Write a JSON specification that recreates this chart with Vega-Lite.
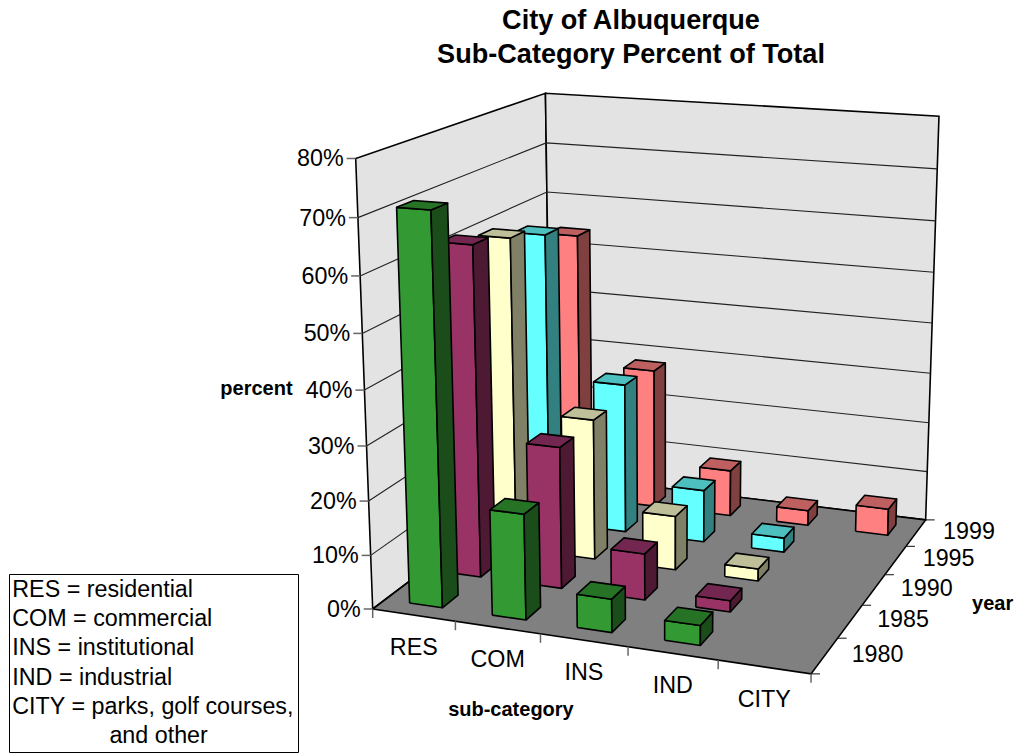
{
"$schema":"https://vega.github.io/schema/vega-lite/v6.json",
"width":1021,"height":755,"padding":0,"autosize":{"type":"none"},
"background":"white",
"title":{"text":["City of Albuquerque","Sub-Category Percent of Total"],"font":"Liberation Sans","fontSize":27.1,"fontWeight":"bold","color":"#000","anchor":"start","frame":"group","align":"center","baseline":"top","dx":631,"dy":69,"offset":0,"lineHeight":34},
"config":{"view":{"stroke":null},"font":"Liberation Sans"},
"encoding":{
"x":{"field":"px","type":"quantitative","scale":{"domain":[0,1021],"nice":false,"zero":false},"axis":null},
"y":{"field":"py","type":"quantitative","scale":{"domain":[755,0],"nice":false,"zero":false},"axis":null}
},
"layer":[
{"data":{"values":[{"surface":"left wall"},{"surface":"back wall"},{"surface":"floor"}]},
"transform":[
{"calculate":"datum.surface==='left wall'?[{k:0,c:0,d:0,v:0},{k:1,c:0,d:1,v:0},{k:2,c:0,d:1,v:1},{k:3,c:0,d:0,v:1},{k:4,c:0,d:0,v:0}]:datum.surface==='back wall'?[{k:0,c:0,d:1,v:0},{k:1,c:1,d:1,v:0},{k:2,c:1,d:1,v:1},{k:3,c:0,d:1,v:1},{k:4,c:0,d:1,v:0}]:[{k:0,c:0,d:0,v:0},{k:1,c:1,d:0,v:0},{k:2,c:1,d:1,v:0},{k:3,c:0,d:1,v:0},{k:4,c:0,d:0,v:0}]","as":"pts"},
{"flatten":["pts"]},
{"calculate":"datum.pts.k","as":"k"},
{"calculate":"(372.7+381.8*datum.pts.c+283.7*datum.pts.d-36.5*datum.pts.v)/(1-0.0697*datum.pts.c+0.1913*datum.pts.d-0.0548*datum.pts.v)","as":"px"},
{"calculate":"(609+17.9*datum.pts.c-43.8*datum.pts.d-459.2*datum.pts.v)/(1-0.0697*datum.pts.c+0.1913*datum.pts.d-0.0548*datum.pts.v)","as":"py"}
],
"mark":{"type":"line","stroke":"#000","strokeWidth":1.6,"clip":false},
"encoding":{"order":{"field":"k","type":"quantitative"},"detail":{"field":"surface"},
"fill":{"field":"surface","type":"nominal","legend":null,"scale":{"domain":["left wall","back wall","floor"],"range":["#e3e3e3","#e3e3e3","#808080"]}}}
},
{"data":{"values":[{"percent":10},{"percent":20},{"percent":30},{"percent":40},{"percent":50},{"percent":60},{"percent":70}]},
"transform":[
{"calculate":"[{k:0,c:0,d:0},{k:1,c:0,d:1},{k:2,c:1,d:1}]","as":"pts"},
{"flatten":["pts"]},
{"calculate":"datum.pts.k","as":"k"},
{"calculate":"datum.percent/80","as":"v"},
{"calculate":"(372.7+381.8*datum.pts.c+283.7*datum.pts.d-36.5*datum.v)/(1-0.0697*datum.pts.c+0.1913*datum.pts.d-0.0548*datum.v)","as":"px"},
{"calculate":"(609+17.9*datum.pts.c-43.8*datum.pts.d-459.2*datum.v)/(1-0.0697*datum.pts.c+0.1913*datum.pts.d-0.0548*datum.v)","as":"py"}
],
"mark":{"type":"line","stroke":"#222","strokeWidth":1.1},
"encoding":{"order":{"field":"k","type":"quantitative"},"detail":{"field":"percent"}}
},
{"data":{"name":"percentTicks","values":[{"percent":0},{"percent":10},{"percent":20},{"percent":30},{"percent":40},{"percent":50},{"percent":60},{"percent":70},{"percent":80}]},
"transform":[
{"calculate":"datum.percent/80","as":"v"},
{"calculate":"(372.7-36.5*datum.v)/(1-0.0548*datum.v)","as":"px"},
{"calculate":"datum.px-9","as":"px2"},
{"calculate":"(609-459.2*datum.v)/(1-0.0548*datum.v)","as":"py"}
],
"mark":{"type":"rule","stroke":"#666","strokeWidth":1.5},
"encoding":{"x2":{"field":"px2"}}
},
{"data":{"name":"percentLabels","values":[{"percent":0},{"percent":10},{"percent":20},{"percent":30},{"percent":40},{"percent":50},{"percent":60},{"percent":70},{"percent":80}]},
"transform":[
{"calculate":"datum.percent/80","as":"v"},
{"calculate":"datum.percent+'%'","as":"lab"},
{"calculate":"(372.7-36.5*datum.v)/(1-0.0548*datum.v)","as":"px"},
{"calculate":"(609-459.2*datum.v)/(1-0.0548*datum.v)","as":"py"}
],
"mark":{"type":"text","align":"right","baseline":"middle","dx":-12,"dy":1,"fontSize":23.3,"font":"Liberation Sans","fill":"#000"},
"encoding":{"text":{"field":"lab"}}
},
{"data":{"values":[{"tick":0},{"tick":1},{"tick":2},{"tick":3},{"tick":4},{"tick":5}]},
"transform":[
{"calculate":"datum.tick/5","as":"c"},
{"calculate":"(372.7+381.8*datum.c)/(1-0.0697*datum.c)","as":"px"},
{"calculate":"(609+17.9*datum.c)/(1-0.0697*datum.c)","as":"py"},
{"calculate":"datum.py+9","as":"py2"}
],
"mark":{"type":"rule","stroke":"#666","strokeWidth":1.5},
"encoding":{"y2":{"field":"py2"}}
},
{"data":{"values":[{"tick":0},{"tick":1},{"tick":2},{"tick":3},{"tick":4},{"tick":5}]},
"transform":[
{"calculate":"datum.tick/5","as":"d"},
{"calculate":"(754.5+283.7*datum.d)/(0.9303+0.1913*datum.d)","as":"px"},
{"calculate":"datum.px+9","as":"px2"},
{"calculate":"(626.9-43.8*datum.d)/(0.9303+0.1913*datum.d)","as":"py"}
],
"mark":{"type":"rule","stroke":"#222","strokeWidth":1.1},
"encoding":{"x2":{"field":"px2"}}
},
{"data":{"values":[{"category":"RES"},{"category":"COM"},{"category":"INS"},{"category":"IND"},{"category":"CITY"}]},
"transform":[
{"calculate":"(indexof(['RES','COM','INS','IND','CITY'],datum.category)+0.5)/5","as":"c"},
{"calculate":"(372.7+381.8*datum.c)/(1-0.0697*datum.c)","as":"px"},
{"calculate":"(609+17.9*datum.c)/(1-0.0697*datum.c)","as":"py"}
],
"mark":{"type":"text","align":"center","baseline":"middle","dy":33,"fontSize":23.3,"font":"Liberation Sans"},
"encoding":{"text":{"field":"category"},
"color":{"field":"category","type":"nominal","scale":{"domain":["RES","COM","INS","IND","CITY","other"],"range":["#000","#000","#000","#000","#000","#000"]},
"legend":{"title":null,"orient":"none","legendX":9,"legendY":574,"strokeColor":"#000","fillColor":"#fff","padding":4,"symbolSize":0,"symbolOpacity":0,"symbolStrokeWidth":0,"labelOffset":-24,"labelFont":"Liberation Sans","labelFontSize":23.3,"labelColor":"#000","labelLimit":400,"rowPadding":5.3,"direction":"vertical","labelExpr":"{'RES':'RES = residential','COM':'COM = commercial','INS':'INS = institutional','IND':'IND = industrial','CITY':'CITY = parks, golf courses,\u00a0\u200a','other':'\u200b\u00a0\u00a0\u00a0\u00a0\u00a0\u00a0\u00a0\u00a0\u00a0\u00a0\u00a0\u00a0\u00a0\u00a0\u00a0and other'}[datum.value]"}}}
},
{"data":{"values":[{"year":1980},{"year":1985},{"year":1990},{"year":1995},{"year":1999}]},
"transform":[
{"calculate":"(indexof([1980,1985,1990,1995,1999],datum.year)+0.5)/5","as":"d"},
{"calculate":"(754.5+283.7*datum.d)/(0.9303+0.1913*datum.d)","as":"px"},
{"calculate":"(626.9-43.8*datum.d)/(0.9303+0.1913*datum.d)","as":"py"},
{"calculate":"''+datum.year","as":"lab"}
],
"mark":{"type":"text","align":"center","baseline":"middle","dx":53,"dy":-1,"fontSize":23.3,"font":"Liberation Sans","fill":"#000"},
"encoding":{"text":{"field":"lab"}}
},
{"data":{"values":[{"axisTitle":"percent","percent":40}]},
"transform":[
{"calculate":"datum.percent/80","as":"v"},
{"calculate":"(372.7-36.5*datum.v)/(1-0.0548*datum.v)","as":"px"},
{"calculate":"(609-459.2*datum.v)/(1-0.0548*datum.v)","as":"py"}
],
"mark":{"type":"text","align":"center","baseline":"middle","dx":-108,"dy":-1,"fontSize":20,"fontWeight":"bold","font":"Liberation Sans","fill":"#000"},
"encoding":{"text":{"field":"axisTitle"}}
},
{"data":{"values":[{"axisTitle":"sub-category","c":0.5}]},
"transform":[
{"calculate":"(372.7+381.8*datum.c)/(1-0.0697*datum.c)","as":"px"},
{"calculate":"(609+17.9*datum.c)/(1-0.0697*datum.c)","as":"py"}
],
"mark":{"type":"text","align":"center","baseline":"middle","dx":-73,"dy":70,"fontSize":20,"fontWeight":"bold","font":"Liberation Sans","fill":"#000"},
"encoding":{"text":{"field":"axisTitle"}}
},
{"data":{"values":[{"axisTitle":"year","d":0.5}]},
"transform":[
{"calculate":"(754.5+283.7*datum.d)/(0.9303+0.1913*datum.d)","as":"px"},
{"calculate":"(626.9-43.8*datum.d)/(0.9303+0.1913*datum.d)","as":"py"}
],
"mark":{"type":"text","align":"center","baseline":"middle","dx":119,"dy":14,"fontSize":20,"fontWeight":"bold","font":"Liberation Sans","fill":"#000"},
"encoding":{"text":{"field":"axisTitle"}}
},
{"data":{"values":[
{"category":"RES","year":1999,"percent":54},
{"category":"COM","year":1999,"percent":28.1},
{"category":"INS","year":1999,"percent":9.3},
{"category":"IND","year":1999,"percent":3},
{"category":"CITY","year":1999,"percent":5.3},
{"category":"RES","year":1995,"percent":57.4},
{"category":"COM","year":1995,"percent":29.5},
{"category":"INS","year":1995,"percent":10.3},
{"category":"IND","year":1995,"percent":2.8},
{"category":"RES","year":1990,"percent":60},
{"category":"COM","year":1990,"percent":27.1},
{"category":"INS","year":1990,"percent":10.4},
{"category":"IND","year":1990,"percent":2.3},
{"category":"RES","year":1985,"percent":62},
{"category":"COM","year":1985,"percent":26.6},
{"category":"INS","year":1985,"percent":8.7},
{"category":"IND","year":1985,"percent":2.1},
{"category":"RES","year":1980,"percent":71.2},
{"category":"COM","year":1980,"percent":19.4},
{"category":"INS","year":1980,"percent":6.1},
{"category":"IND","year":1980,"percent":3.6}
]},
"transform":[
{"calculate":"(indexof(['RES','COM','INS','IND','CITY'],datum.category)+0.5)/5","as":"cc"},
{"calculate":"(indexof([1980,1985,1990,1995,1999],datum.year)+0.5)/5","as":"dd"},
{"calculate":"datum.percent/80","as":"vv"},
{"calculate":"datum.cc-0.04","as":"c0"},
{"calculate":"datum.cc+0.04","as":"c1"},
{"calculate":"datum.dd-0.04","as":"d0"},
{"calculate":"datum.dd+0.04","as":"d1"},
{"calculate":"[{f:'front',k:0,c:datum.c0,d:datum.d0,v:0},{f:'front',k:1,c:datum.c1,d:datum.d0,v:0},{f:'front',k:2,c:datum.c1,d:datum.d0,v:datum.vv},{f:'front',k:3,c:datum.c0,d:datum.d0,v:datum.vv},{f:'front',k:4,c:datum.c0,d:datum.d0,v:0},{f:'side',k:0,c:datum.c1,d:datum.d0,v:0},{f:'side',k:1,c:datum.c1,d:datum.d1,v:0},{f:'side',k:2,c:datum.c1,d:datum.d1,v:datum.vv},{f:'side',k:3,c:datum.c1,d:datum.d0,v:datum.vv},{f:'side',k:4,c:datum.c1,d:datum.d0,v:0},{f:'top',k:0,c:datum.c0,d:datum.d0,v:datum.vv},{f:'top',k:1,c:datum.c1,d:datum.d0,v:datum.vv},{f:'top',k:2,c:datum.c1,d:datum.d1,v:datum.vv},{f:'top',k:3,c:datum.c0,d:datum.d1,v:datum.vv},{f:'top',k:4,c:datum.c0,d:datum.d0,v:datum.vv}]","as":"pts"},
{"flatten":["pts"]},
{"calculate":"datum.pts.k","as":"k"},
{"calculate":"datum.category+'-'+datum.year+'-'+datum.pts.f","as":"face"},
{"calculate":"datum.year+'-'+datum.pts.f","as":"paint"},
{"calculate":"(372.7+381.8*datum.pts.c+283.7*datum.pts.d-36.5*datum.pts.v)/(1-0.0697*datum.pts.c+0.1913*datum.pts.d-0.0548*datum.pts.v)","as":"px"},
{"calculate":"(609+17.9*datum.pts.c-43.8*datum.pts.d-459.2*datum.pts.v)/(1-0.0697*datum.pts.c+0.1913*datum.pts.d-0.0548*datum.pts.v)","as":"py"}
],
"mark":{"type":"line","stroke":"#000","strokeWidth":1.6,"strokeJoin":"round"},
"encoding":{"order":{"field":"k","type":"quantitative"},"detail":{"field":"face"},
"fill":{"field":"paint","type":"nominal","legend":null,"scale":{"domain":["left wall","back wall","floor","1980-front","1980-side","1980-top","1985-front","1985-side","1985-top","1990-front","1990-side","1990-top","1995-front","1995-side","1995-top","1999-front","1999-side","1999-top"],"range":["#e3e3e3","#e3e3e3","#808080","#339933","#1a4d1a","#267326","#993366","#4d1933","#732650","#ffffcc","#808066","#bfbf99","#66ffff","#338080","#4dbfbf","#ff8080","#804040","#bf6060"]}}}
}
],
"resolve":{"scale":{"fill":"independent"}}
}
